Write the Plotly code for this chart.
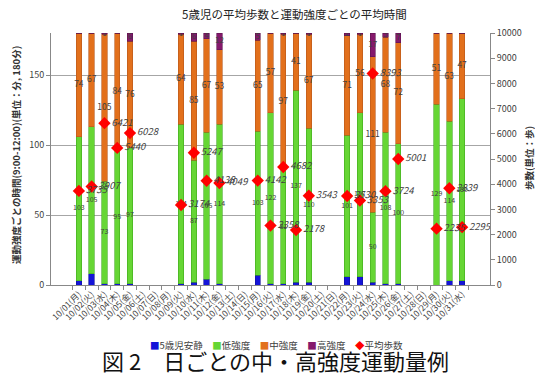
import plotly.graph_objects as go

N = None
dates = ["10/01(月)", "10/02(火)", "10/03(水)", "10/04(木)", "10/05(金)", "10/06(土)", "10/07(日)",
         "10/08(月)", "10/09(火)", "10/10(水)", "10/11(木)", "10/12(金)", "10/13(土)", "10/14(日)",
         "10/15(月)", "10/16(火)", "10/17(水)", "10/18(木)", "10/19(金)", "10/20(土)", "10/21(日)",
         "10/22(月)", "10/23(火)", "10/24(水)", "10/25(木)", "10/26(金)", "10/27(土)", "10/28(日)",
         "10/29(月)", "10/30(火)", "10/31(水)"]

rest = [3, 8, 1, 1, 1, N, N, N, 1, 2, 4, 1, N, N, 7, 1, 1, 2, 2, N, N, 6, 6, 2, 1, 1, N, N, 0, 3, 3]
low = [103, 105, 73, 95, 97, N, N, N, 114, 87, 105, 114, N, N, 103, 122, 81, 137, 110, N, N,
       101, 117, 50, 108, 100, N, N, 129, 114, 130]
mid = [74, 67, 105, 84, 76, N, N, N, 64, 85, 67, 53, N, N, 65, 57, 97, 41, 67, N, N,
       71, 56, 111, 68, 72, N, N, 51, 63, 47]
high = [0, 0, 1, 0, 6, N, N, N, 1, 6, 4, 12, N, N, 5, 0, 1, 0, 1, N, N, 2, 1, 17, 3, 7, N, N, 0, 0, 0]
steps = [3735, 3907, 6421, 5440, 6028, N, N, N, 3174, 5247, 4138, 4049, N, N, 4142, 2358, 4682, 2178, 3543,
         N, N, 3530, 3353, 8393, 3724, 5001, N, N, 2235, 3839, 2295]

series_names = ["5歳児安静", "低強度", "中強度", "高強度"]
series_vals = [rest, low, mid, high]
colors = ["#1414D8", "#66D634", "#E2701C", "#85196C"]
line_colors = ["#10109A", "#3FA81E", "#B8561A", "#5E1250"]

FONT = "Noto Sans CJK JP"
TXT = "#404040"

fig = go.Figure()
for name, vals, c, lc in zip(series_names, series_vals, colors, line_colors):
    fig.add_trace(go.Bar(x=dates, y=vals, name=name, marker=dict(color=c, line=dict(color=lc, width=0.6)),
                         width=0.42, showlegend=False))

# segment labels (low, mid, high) placed at each segment's middle
label_sizes = {1: 7, 2: 8.5, 3: 8}
for idx in (1, 2, 3):
    xs, ys, ts = [], [], []
    for i, d in enumerate(dates):
        if rest[i] is None:
            continue
        base = sum(series_vals[k][i] for k in range(idx))
        v = series_vals[idx][i]
        if v and v > 0:
            xs.append(d)
            ys.append(base + v / 2)
            ts.append(str(v))
    fig.add_trace(go.Scatter(x=xs, y=ys, text=ts, mode="text", showlegend=False,
                             textfont=dict(size=label_sizes[idx], color=TXT, family=FONT),
                             textposition="middle center", hoverinfo="skip"))

fig.add_trace(go.Scatter(x=dates, y=steps, yaxis="y2", mode="markers+text", name="平均歩数",
                         marker=dict(symbol="diamond", size=9.5, color="#FF0000"),
                         text=[str(s) if s is not None else "" for s in steps],
                         textposition="middle right",
                         textfont=dict(size=9.5, color=TXT, family=FONT, style="italic"),
                         showlegend=False))

L, R, T, B = 51, 45, 33, 91
W, H = 535, 376
pw, ph = W - L - R, H - T - B


def px(x):
    return (x - L) / pw


def py(y):
    return (H - B - y) / ph


fig.update_layout(
    width=W, height=H, margin=dict(l=L, r=R, t=T, b=B, pad=0),
    barmode="stack", bargap=0.58,
    plot_bgcolor="white", paper_bgcolor="white",
    font=dict(family=FONT, size=9, color=TXT),
    showlegend=False,
    xaxis=dict(type="category", categoryorder="array", categoryarray=dates,
               tickangle=-45, tickfont=dict(size=8.5, color=TXT), ticks="outside", ticklen=4,
               tickson="boundaries", tickcolor="#888888", showline=True, linecolor="#888888",
               linewidth=1, showgrid=False, zeroline=False),
    yaxis=dict(range=[0, 180], dtick=50, showgrid=True, gridcolor="#A6A6A6", gridwidth=1,
               showline=True, linecolor="#888888", ticks="outside", ticklen=4, tickcolor="#888888",
               tickfont=dict(size=9, color=TXT), zeroline=False),
    yaxis2=dict(range=[0, 10000], dtick=1000, tickformat="d", overlaying="y", side="right", showgrid=False,
                showline=True, linecolor="#888888", ticks="outside", ticklen=4, tickcolor="#888888",
                tickfont=dict(size=9, color=TXT), zeroline=False),
)

legend_html = ('<span style="color:#1414D8">■</span>5歳児安静　'
               '<span style="color:#66D634">■</span>低強度　'
               '<span style="color:#E2701C">■</span>中強度　'
               '<span style="color:#85196C">■</span>高強度　'
               '<span style="color:#FF0000">◆</span>平均歩数')

annos = [
    dict(text="5歳児の平均歩数と運動強度ごとの平均時間", x=px(294), y=py(14), font=dict(size=11.5, color="#222222")),
    dict(text="<b>運動強度ごとの時間(9:00-12:00)(単位：分, 180分)</b>", x=px(16), y=py(155), textangle=-90,
         font=dict(size=9.5, color="#333333")),
    dict(text="<b>歩数(単位：歩)</b>", x=px(529), y=py(158), textangle=-90, font=dict(size=9.5, color="#333333")),
    dict(text=legend_html, x=px(276), y=py(345), font=dict(size=9.5, color=TXT)),
    dict(text="図 2　日ごとの中・高強度運動量例", x=px(275), y=py(360), font=dict(size=22, color="#111111"),
         borderpad=0),
]
for a in annos:
    a.update(xref="paper", yref="paper", showarrow=False, xanchor="center", yanchor="middle")
fig.update_layout(annotations=annos)

fig.write_html("out.html")
